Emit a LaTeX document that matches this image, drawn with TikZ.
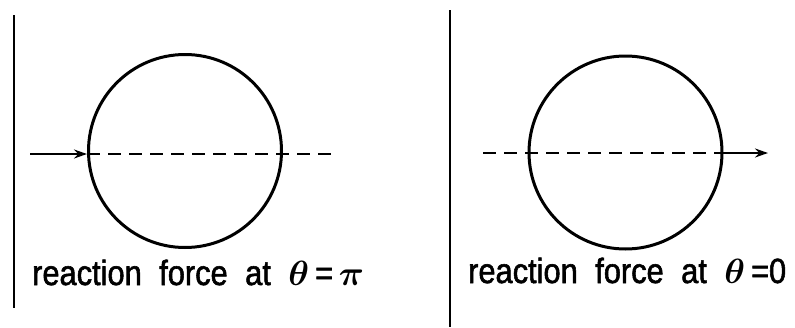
\RequirePackage{fix-cm}
\documentclass[tikz,border=0pt]{standalone}
\usepackage{amsmath}
\usepackage{fontspec}
\setmainfont{Liberation Sans}
\newfontfamily\capfamily{Liberation Sans}[FakeStretch=0.88, FakeBold=1.6]
\usetikzlibrary{arrows.meta,positioning}
\newcommand\capfont{\capfamily\fontsize{35}{40}\selectfont\spaceskip=0.5em\relax}
\tikzset{
  wall/.style={line width=2.4pt},
  ball/.style={circle, draw, line width=3pt, minimum size=193pt, inner sep=0pt},
  axl/.style={dash pattern=on 13pt off 8pt, line width=2.2pt},
  farr/.style={-{Stealth[length=13pt, width=9pt]}, line width=2.2pt},
  lbl/.style={anchor=base west, inner sep=0pt, font=\capfont},
}
\begin{document}
\begin{tikzpicture}[x=1pt, y=-1pt]
  \useasboundingbox (0,0) rectangle (795,327);
  % left: force at theta = pi
  \draw[wall] (14,15) -- (14,308);
  \node[ball] (ballA) at (185,151) {};
  \coordinate (inA) at (30,154);
  \coordinate (outA) at (337,154);
  \draw[farr] (inA) -- (inA -| ballA.west);
  \draw[axl] (inA -| ballA.west) -- (outA);
  \node[lbl] (capA) at (32,285) {reaction force at $\boldsymbol{\theta}$\,=\,$\boldsymbol{\pi}$};
  % right: force at theta = 0
  \draw[wall] (450,10) -- (450,327);
  \node[ball] (ballB) at (625.5,152.5) {};
  \coordinate (inB) at (483,153);
  \coordinate (outB) at (768,153);
  \draw[axl] (inB) -- (inB -| ballB.east);
  \draw[farr] (inB -| ballB.east) -- (outB);
  \node[lbl] (capB) at (468,283) {reaction force at $\boldsymbol{\theta}$\,=0};
\end{tikzpicture}
\end{document}
